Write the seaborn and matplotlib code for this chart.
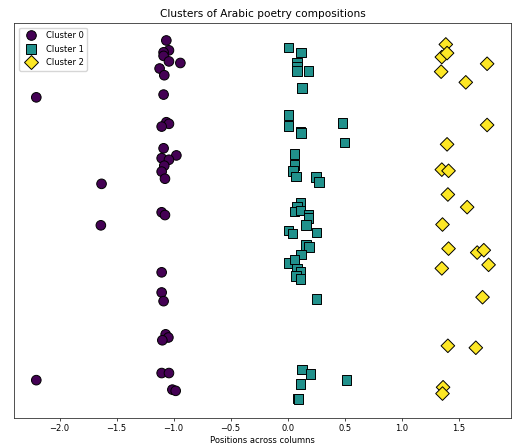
import pandas as pd
import matplotlib
matplotlib.use("Agg")
import matplotlib.pyplot as plt
import seaborn as sns

# Cluster 0 - positions across columns (x) and vertical position (y)
c0_x = [-1.064, -1.041, -1.088, -1.088, -1.041, -0.941, -1.123, -1.082, -2.204, -1.088,
        -1.064, -1.041, -1.105, -1.088, -0.976, -1.105, -1.041, -1.082, -1.105, -1.076,
        -1.632, -1.105, -1.076, -1.638, -1.105, -1.105, -1.088, -1.070, -1.046, -1.099,
        -1.105, -1.041, -2.204, -1.011, -0.982]
c0_y = [95.5, 93.0, 92.5, 91.6, 90.2, 89.8, 88.4, 86.7, 81.1, 81.8,
        74.8, 74.4, 73.7, 68.2, 66.4, 65.7, 65.3, 63.8, 62.3, 60.5,
        59.2, 52.0, 51.3, 48.7, 36.8, 31.7, 29.5, 21.1, 20.3, 19.6,
        11.3, 11.3, 9.5, 7.1, 6.8]

# Cluster 1
c1_x = [0.006, 0.117, 0.082, 0.082, 0.082, 0.182, 0.123, 0.006, 0.006, 0.111,
        0.117, 0.480, 0.497, 0.059, 0.059, 0.046, 0.070, 0.246, 0.275, 0.111,
        0.082, 0.059, 0.111, 0.182, 0.182, 0.158, 0.006, 0.041, 0.252, 0.158,
        0.187, 0.117, 0.011, 0.059, 0.082, 0.111, 0.070, 0.111, 0.252, 0.123,
        0.199, 0.515, 0.111, 0.088, 0.094]
c1_y = [93.7, 92.5, 89.9, 88.8, 87.7, 87.7, 83.4, 76.6, 73.9, 72.4,
        72.1, 74.6, 69.7, 66.8, 64.0, 62.5, 61.1, 60.9, 59.6, 54.5,
        53.5, 52.2, 52.5, 51.4, 50.6, 48.8, 47.4, 46.6, 46.9, 43.7,
        43.2, 41.3, 39.2, 40.0, 37.6, 37.0, 35.8, 35.1, 30.1, 12.2,
        11.0, 9.5, 8.6, 4.9, 4.7]

# Cluster 2
c2_x = [1.386, 1.351, 1.397, 1.748, 1.345, 1.561, 1.748, 1.397, 1.351, 1.410,
        1.404, 1.573, 1.357, 1.410, 1.661, 1.719, 1.351, 1.761, 1.708, 1.404,
        1.649, 1.362, 1.357]
c2_y = [94.5, 91.3, 92.3, 89.6, 87.6, 84.9, 74.1, 69.2, 62.8, 62.5,
        56.5, 53.3, 48.9, 42.8, 41.8, 42.4, 37.8, 38.7, 30.5, 18.2,
        17.7, 7.7, 6.1]

cluster_names = ["Cluster 0", "Cluster 1", "Cluster 2"]
colors = ["#440154", "#21918c", "#fde725"]
markers = ["o", "s", "D"]

df = pd.concat([
    pd.DataFrame({"x": c0_x, "y": c0_y, "cluster": cluster_names[0]}),
    pd.DataFrame({"x": c1_x, "y": c1_y, "cluster": cluster_names[1]}),
    pd.DataFrame({"x": c2_x, "y": c2_y, "cluster": cluster_names[2]}),
])

fig, ax = plt.subplots(figsize=(5.16, 4.45), dpi=100)
sns.scatterplot(data=df, x="x", y="y", hue="cluster", style="cluster",
                palette=dict(zip(cluster_names, colors)),
                markers=dict(zip(cluster_names, markers)),
                s=48, edgecolor="black", linewidth=0.7, ax=ax)

ax.set_xlim(-2.40, 1.956)
ax.set_ylim(0, 100)
ax.set_yticks([])
ax.set_ylabel("")
ax.set_xlabel("Positions across columns", fontsize=6, labelpad=2)
ax.tick_params(axis="x", labelsize=6, length=2.2, width=0.5, pad=2.2)
ax.set_title("Clusters of Arabic poetry compositions", fontsize=7.6, pad=4)
ax.legend(loc="upper left", fontsize=6, title=None, markerscale=1.0,
          borderpad=0.4, labelspacing=0.55, handletextpad=0.8,
          borderaxespad=0.6)
for sp in ax.spines.values():
    sp.set_linewidth(0.6)
    sp.set_color("#333333")

fig.subplots_adjust(left=0.027, right=0.99, top=0.949, bottom=0.0614)
fig.savefig("out.png", dpi=100)
